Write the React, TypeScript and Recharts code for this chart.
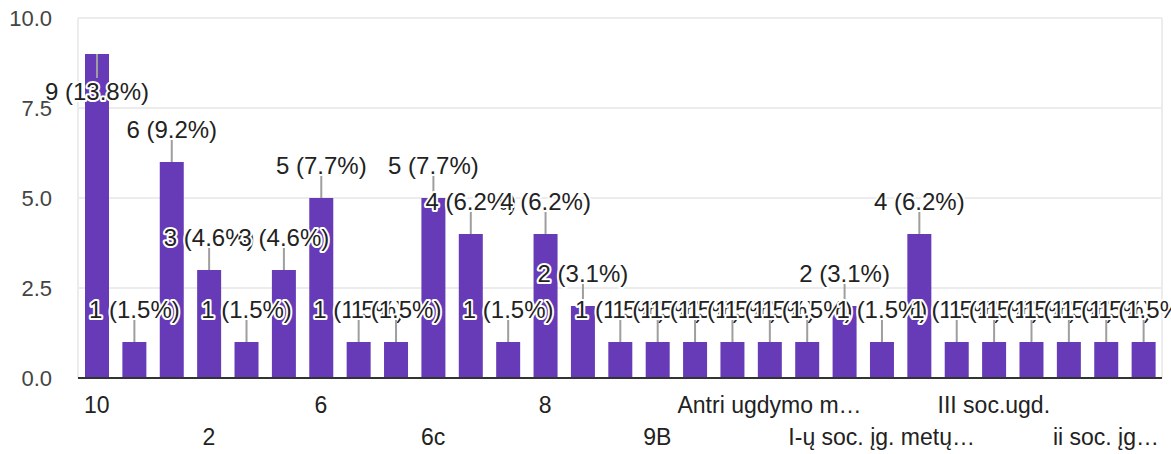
import { Bar, BarChart, CartesianGrid, LabelList, XAxis, YAxis } from 'recharts';

const CATEGORIES = [
  '10', '11', '1b', '2', '3', '5', '6', '6a', '6b', '6c', '7', '7a', '8', '8b', '9',
  '9B', '9a', 'Antra', 'Antri ugdymo m…', 'I', 'I soc. įg.', 'I-ų soc. įg. metų…', 'II',
  'II soc. įg.', 'III soc.ugd.', 'IV', 'antri', 'ii soc. įg…', 'pirmi',
];
const VALUES = [9, 1, 6, 3, 1, 3, 5, 1, 1, 5, 4, 1, 4, 2, 1, 1, 1, 1, 1, 1, 2, 1, 4, 1, 1, 1, 1, 1, 1];
const Y_TICKS = [0, 2.5, 5, 7.5, 10];

const TOTAL = VALUES.reduce((a, b) => a + b, 0);
const data = CATEGORIES.map((name, i) => ({ name, value: VALUES[i] }));

const FONT = '"Liberation Sans", Arial, sans-serif';
const PURPLE = '#673ab7';

function BarLabel(props: any) {
  const { x, y, width, value } = props;
  const cx = x + width / 2;
  const text = `${value} (${((value / TOTAL) * 100).toFixed(1)}%)`;
  // labels for bars near the top go down into the bar
  const below = value / 10 > 0.85;
  const lineEnd = below ? y + 24 : y - 24;
  const ty = below ? y + 46 : y - 24;
  return (
    <g>
      <line x1={cx} x2={cx} y1={y} y2={lineEnd} stroke="#9e9e9e" strokeWidth={2} />
      <text
        x={cx}
        y={ty}
        textAnchor="middle"
        fontFamily={FONT}
        fontSize={24}
        fill="#222"
        stroke="#fff"
        strokeWidth={4}
        strokeLinejoin="round"
        paintOrder="stroke"
      >
        {text}
      </text>
    </g>
  );
}

function XTick(props: any) {
  const { x, index, payload } = props;
  if (index % 3 !== 0) return <g />;
  const row = Math.floor(index / 3) % 2;
  return (
    <text
      x={x}
      y={row === 0 ? 413 : 445}
      textAnchor="middle"
      fontFamily={FONT}
      fontSize={23}
      fill="#222"
    >
      {payload.value}
    </text>
  );
}

function YTick(props: any) {
  const { y, payload } = props;
  return (
    <text x={52} y={y + 8} textAnchor="end" fontFamily={FONT} fontSize={22} fill="#444">
      {Number(payload.value).toFixed(1)}
    </text>
  );
}

export default function App() {
  return (
    <div style={{ position: 'absolute', left: 0, top: 0, background: '#fff' }}>
      <BarChart
        width={1171}
        height={454}
        data={data}
        margin={{ top: 18, right: 9, left: 0, bottom: 0 }}
      >
        <CartesianGrid stroke="#ececec" strokeWidth={2} verticalPoints={[78, 1162]} />
        <YAxis
          width={78}
          domain={[0, 10]}
          ticks={Y_TICKS}
          axisLine={false}
          tickLine={false}
          tick={<YTick />}
        />
        <XAxis
          dataKey="name"
          height={76}
          interval={0}
          tickLine={false}
          axisLine={{ stroke: '#333', strokeWidth: 2 }}
          tick={<XTick />}
        />
        <Bar dataKey="value" fill={PURPLE} barSize={24} isAnimationActive={false}>
          <LabelList dataKey="value" content={<BarLabel />} />
        </Bar>
      </BarChart>
    </div>
  );
}
